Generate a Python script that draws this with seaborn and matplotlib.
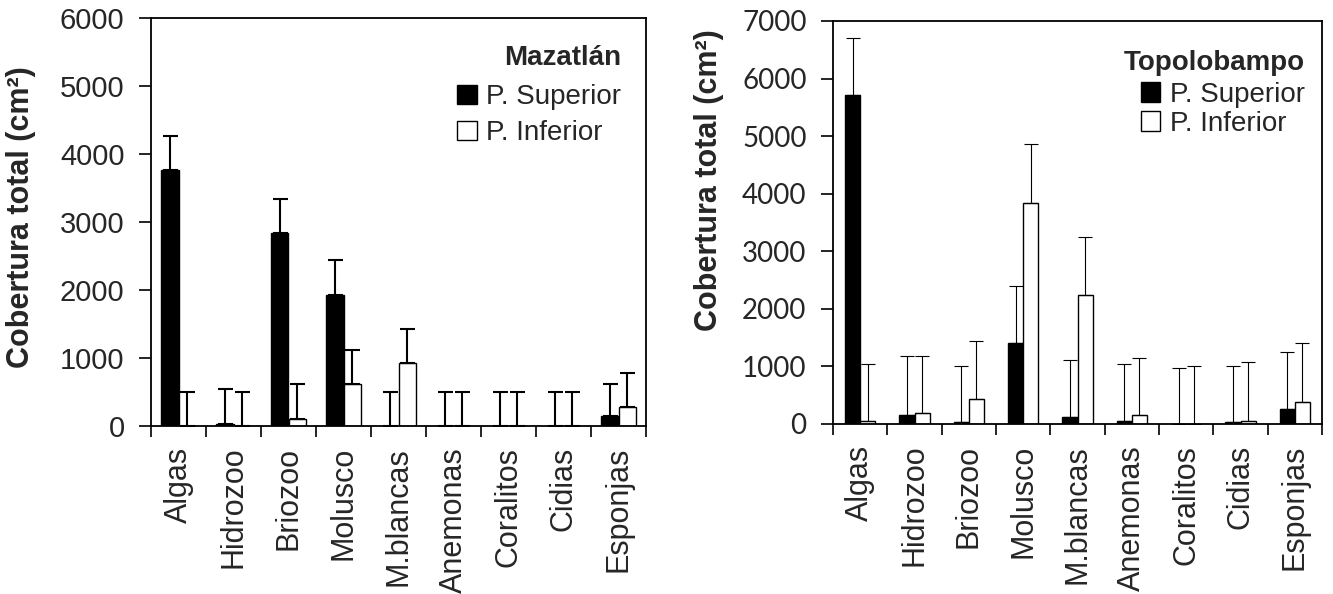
import numpy as np
import pandas as pd
import matplotlib
matplotlib.use("Agg")
import matplotlib.pyplot as plt
from matplotlib.ticker import FixedLocator
import seaborn as sns

categories = ["Algas", "Hidrozoo", "Briozoo", "Molusco", "M.blancas",
              "Anemonas", "Coralitos", "Cidias", "Esponjas"]
series = ["P. Superior", "P. Inferior"]

# Mazatlán
maz_sup = [3760, 30, 2840, 1930, 0, 0, 0, 0, 140]
maz_inf = [0, 0, 110, 620, 930, 0, 0, 0, 280]
maz_sup_err = [500, 510, 500, 510, 500, 500, 500, 500, 480]
maz_inf_err = [500, 500, 510, 500, 500, 500, 500, 500, 505]

# Topolobampo
top_sup = [5715, 155, 30, 1415, 125, 60, 0, 30, 255]
top_inf = [60, 190, 430, 3845, 2235, 155, 0, 60, 390]
top_sup_err = [985, 1020, 985, 985, 990, 985, 980, 985, 990]
top_inf_err = [990, 985, 1010, 1010, 1010, 985, 1010, 1025, 1020]

sns.set_style("white")
plt.rcParams["font.family"] = ["Liberation Sans", "DejaVu Sans"]

fig = plt.figure(figsize=(13.33, 5.94), dpi=100)
axL = fig.add_axes([151/1333, 1-426/594, 495/1333, 408/594])
axR = fig.add_axes([833/1333, 1-424/594, 489/1333, 403/594])

palette = {"P. Superior": "black", "P. Inferior": "white"}


def make_df(sup, inf):
    return pd.DataFrame({
        "cat": categories * 2,
        "serie": [series[0]] * len(categories) + [series[1]] * len(categories),
        "val": list(sup) + list(inf),
    })


def draw(ax, sup, inf, sup_err, inf_err, width, ymax, step, elw, cap,
         title, ytick_font, ytick_size, ypad, leg_anchor, labelspacing, title_gap):
    df = make_df(sup, inf)
    sns.barplot(data=df, x="cat", y="val", hue="serie", hue_order=series,
                order=categories, palette=palette, edgecolor="black",
                linewidth=1.0, width=width, saturation=1, errorbar=None,
                legend=False, ax=ax)
    bar_conts = list(ax.containers)
    for cont, err in zip(bar_conts, [sup_err, inf_err]):
        xs = [b.get_x() + b.get_width() / 2 for b in cont]
        hs = [b.get_height() for b in cont]
        ax.errorbar(xs, hs, yerr=[np.zeros(len(err)), err], fmt="none",
                    ecolor="black", elinewidth=elw, capsize=cap,
                    capthick=elw, zorder=3)
    ax.set_xlim(-0.5, len(categories) - 0.5)
    ax.set_ylim(0, ymax)
    ax.set_yticks(np.arange(0, ymax + 1, step))
    ax.set_yticklabels([str(int(v)) for v in np.arange(0, ymax + 1, step)],
                       fontsize=ytick_size, family=ytick_font)
    ax.set_xticks(range(len(categories)))
    ax.set_xticklabels(categories, rotation=90, fontsize=22,
                       family="Liberation Sans")
    ax.xaxis.set_minor_locator(FixedLocator(np.arange(-0.5, len(categories), 1)))
    ax.tick_params(axis="x", which="major", length=0, pad=15)
    ax.tick_params(axis="x", which="minor", length=8, width=1.2,
                   direction="out", bottom=True, color="black")
    ax.tick_params(axis="y", length=9, width=1.2, direction="out",
                   left=True, color="black", pad=ypad)
    ax.set_xlabel("")
    for s in ax.spines.values():
        s.set_visible(True)
        s.set_color("black")
        s.set_linewidth(1.3)
    ax.set_ylabel("Cobertura total (cm²)", fontsize=22, fontweight="bold",
                  family="Liberation Sans")
    handles = [cont.patches[0] for cont in bar_conts]
    leg = ax.legend(handles, series, title=title, loc="upper right",
                    bbox_to_anchor=leg_anchor, frameon=False, fontsize=20,
                    title_fontproperties={"weight": "bold", "size": 20,
                                          "family": "Liberation Sans"},
                    handlelength=0.7, handleheight=0.7, handletextpad=0.35,
                    labelspacing=labelspacing, borderpad=0, borderaxespad=0,
                    alignment="right")
    leg._legend_box.sep = title_gap
    return ax


draw(axL, maz_sup, maz_inf, maz_sup_err, maz_inf_err, 0.64, 6000, 1000,
     1.5, 5.4, "Mazatlán", "Liberation Sans", 21, 10, (0.95, 0.935), 0.35, 10)
axL.yaxis.set_label_coords(-0.232, 0.512)

draw(axR, top_sup, top_inf, top_sup_err, top_inf_err, 0.56, 7000, 1000,
     0.8, 4.7, "Topolobampo", "Lato", 20, 10, (0.965, 0.928), 0.12, 4)
axR.yaxis.set_label_coords(-0.222, 0.605)

fig.savefig("out.png", dpi=100)
